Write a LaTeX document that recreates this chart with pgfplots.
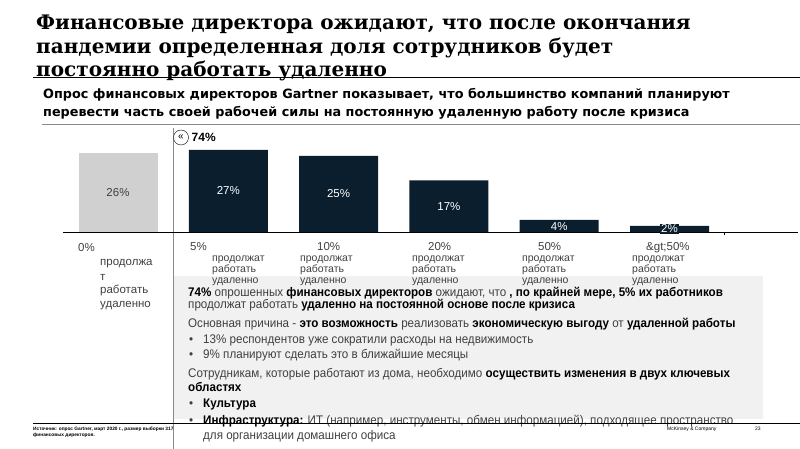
\documentclass[border=0pt]{standalone}
\usepackage{fontspec}
\usepackage{pgfplots}
\pgfplotsset{compat=1.18}
\setmainfont{Liberation Sans}
\newfontfamily\titlefont{DejaVu Serif}
\newfontfamily\subfont{DejaVu Sans}
\newfontfamily\bodyfont[FakeStretch=0.93]{Liberation Sans}
\definecolor{barnavy}{HTML}{0B1E2D}
\definecolor{bargray}{HTML}{D0D0D0}
\definecolor{boxgray}{HTML}{F1F1F1}
\definecolor{txtgray}{HTML}{404040}
\definecolor{rulegray}{HTML}{8A8A8A}

% category label line and body text line
\newcommand{\cl}[3]{\node[anchor=base west,inner sep=0pt,text=txtgray] at (#1,#2) {\fontsize{11.5}{12}\selectfont #3};}
\newcommand{\cs}[3]{\node[anchor=base west,inner sep=0pt,text=txtgray] at (#1,#2) {\fontsize{10.5}{11}\selectfont #3};}
\newcommand{\bl}[3]{\node[anchor=base west,inner sep=0pt,text=txtgray] at (#1,#2) {\bodyfont\fontsize{12.5}{13}\selectfont #3};}
\newcommand{\B}[1]{\textcolor{black}{\bfseries #1}}

\begin{document}
\begin{tikzpicture}[x=1pt,y=-1pt]
\useasboundingbox (0,0) rectangle (800,449);

% title
\begin{scope}[every node/.style={anchor=base west,inner sep=0pt}]
\node at (36,30) {\titlefont\bfseries\fontsize{20}{24}\selectfont Финансовые директора ожидают, что после окончания};
\node at (36,53.5) {\titlefont\bfseries\fontsize{20}{24}\selectfont пандемии определенная доля сотрудников будет};
\node at (36,76.5) {\titlefont\bfseries\fontsize{20}{24}\selectfont постоянно работать удаленно};
\node at (43,98.5) {\subfont\bfseries\fontsize{12.8}{14}\selectfont Опрос финансовых директоров Gartner показывает, что большинство компаний планируют};
\node at (43,117) {\subfont\bfseries\fontsize{12.8}{14}\selectfont перевести часть своей рабочей силы на постоянную удаленную работу после кризиса};
\end{scope}
\draw[line width=1pt] (33,77.5) -- (800,77.5);
\draw[rulegray, line width=0.8pt] (42,124) -- (800,124);

% shaded text box and separator
\fill[boxgray] (173,276) rectangle (763,419);
\draw[rulegray, line width=0.6pt] (173,128) -- (173,449);

\begin{axis}[
  at={(62.85pt,-232pt)}, anchor=south west,
  scale only axis, width=735.15pt, height=102pt,
  xmin=-0.5, xmax=6.165, ymin=0, ymax=33.55,
  axis x line*=bottom, axis y line=none,
  x axis line style={-, line width=1pt},
  xtick=\empty, ytick=\empty,
  ybar, bar width=79pt, bar shift=0pt,
  clip=false,
]
  \addplot[fill=bargray, draw=none] coordinates {(0,26)};
  \addplot[fill=barnavy, draw=none] coordinates {(1,27) (2,25) (3,17) (4,4) (5,2)};
  \node[text=txtgray, font=\fontsize{11.5}{12}\selectfont] at (axis cs:0,13) {26\%};
  \node[text=white, font=\fontsize{11.5}{12}\selectfont] at (axis cs:1,13.5) {27\%};
  \node[text=white, font=\fontsize{11.5}{12}\selectfont] at (axis cs:2,12.5) {25\%};
  \node[text=white, font=\fontsize{11.5}{12}\selectfont] at (axis cs:3,8.5) {17\%};
  \node[text=white, font=\fontsize{11.5}{12}\selectfont] at (axis cs:4,1.7) {4\%};
  \node[fill=barnavy, text=white, inner sep=1.2pt, font=\fontsize{11.5}{12}\selectfont] at (axis cs:5,1) {2\%};
  \draw[line width=0.6pt] (axis cs:5.5,0) -- ++(0pt,-2.5pt);
\end{axis}

% marker for the 74%
\node[draw, circle, inner sep=0pt, minimum size=15pt, line width=0.4pt, fill=white] at (181,137.5) {\fontsize{10}{10}\selectfont «};
\node[anchor=west, inner sep=0pt] at (191.5,137) {\bfseries\fontsize{12}{12}\selectfont 74\%};

% category labels
\cl{78}{251}{0\%}
\cl{100}{265}{продолжа} \cl{100}{280}{т} \cl{100}{293}{работать} \cl{100}{307}{удаленно}
\cl{190}{250}{5\%}
\cs{212}{261.5}{продолжат} \cs{212}{272.5}{работать} \cs{212}{283.5}{удаленно}
\cl{317}{250}{10\%}
\cs{300}{261.5}{продолжат} \cs{300}{272.5}{работать} \cs{300}{283.5}{удаленно}
\cl{428}{250}{20\%}
\cs{412}{261.5}{продолжат} \cs{412}{272.5}{работать} \cs{412}{283.5}{удаленно}
\cl{538}{250}{50\%}
\cs{522}{261.5}{продолжат} \cs{522}{272.5}{работать} \cs{522}{283.5}{удаленно}
\cl{646}{250}{\&gt;50\%}
\cs{632}{261.5}{продолжат} \cs{632}{272.5}{работать} \cs{632}{283.5}{удаленно}

% text in the shaded box
\bl{188}{296}{\B{74\%} опрошенных \B{финансовых директоров} ожидают, что \B{, по крайней мере, 5\% их работников}}
\bl{188}{308.5}{продолжат работать \B{удаленно на постоянной основе после кризиса}}
\bl{188}{327.5}{Основная причина - \B{это возможность} реализовать \B{экономическую выгоду} от \B{удаленной работы}}
\bl{189}{343}{•} \bl{203}{343}{13\% респондентов уже сократили расходы на недвижимость}
\bl{189}{358.5}{•} \bl{203}{358.5}{9\% планируют сделать это в ближайшие месяцы}
\bl{188}{377.5}{Сотрудникам, которые работают из дома, необходимо \B{осуществить изменения в двух ключевых}}
\bl{188}{391.5}{\B{областях}}
\bl{189}{407.5}{•} \bl{203}{407.5}{\B{Культура}}
\bl{189}{424}{•} \bl{203}{424}{\B{Инфраструктура:} ИТ (например, инструменты, обмен информацией), подходящее пространство}
\bl{203}{439}{для организации домашнего офиса}

% footer
\draw[line width=0.8pt] (33,423) -- (800,423);
\node[anchor=base west, inner sep=0pt] at (33,430) {\bfseries\fontsize{4.8}{5}\selectfont Источник: опрос Gartner, март 2020 г., размер выборки 317};
\node[anchor=base west, inner sep=0pt] at (33,436.5) {\bfseries\fontsize{4.8}{5}\selectfont финансовых директоров.};
\node[anchor=base west, inner sep=0pt] at (667,430) {\fontsize{5}{5}\selectfont McKinsey \& Company};
\node[anchor=base west, inner sep=0pt] at (755,430) {\fontsize{5}{5}\selectfont 23};
\end{tikzpicture}
\end{document}
